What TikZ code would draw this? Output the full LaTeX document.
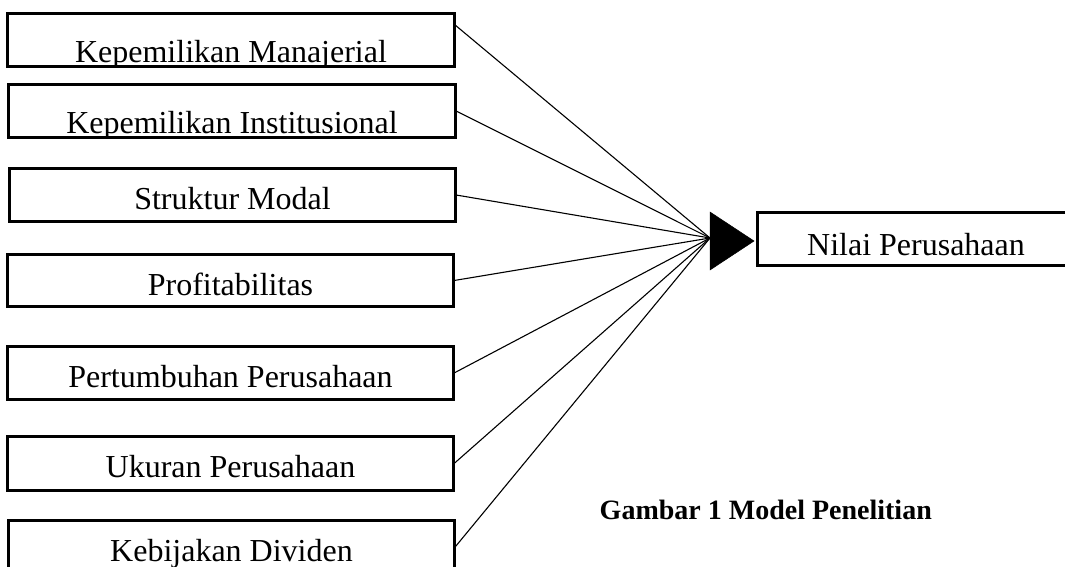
\documentclass[tikz,border=0pt]{standalone}
\usepackage{fontspec}
\setmainfont{Liberation Serif}
\begin{document}
\begin{tikzpicture}[x=1pt,y=-1pt,
  box/.style={draw, line width=2.2pt, inner sep=0pt, minimum height=52pt},
  txt/.style={anchor=base, inner sep=0pt, font=\fontsize{32}{38}\selectfont},
  link/.style={line width=1.1pt},
  head/.style={fill=black, draw=black, line width=0.5pt, line join=miter}]
\clip (0,0) rectangle (1065,567);
\fill[white] (0,0) rectangle (1065,567);

% boxes
\node[box, minimum width=446pt] (b1) at (231,40) {};
\node[box, minimum width=446pt] (b2) at (232,111) {};
\node[box, minimum width=445pt] (b3) at (232.5,195) {};
\node[box, minimum width=445pt, minimum height=51pt] (b4) at (230.5,280.5) {};
\node[box, minimum width=445pt] (b5) at (230.5,373) {};
\node[box, minimum width=445pt, minimum height=53pt] (b6) at (230.5,463.5) {};
\node[box, minimum width=445pt] (b7) at (231.5,547) {};
\node[box, minimum width=316pt] (nv) at (916,239) {};

% texts, clipped to their boxes
\begin{scope}\clip (b1.south west) rectangle (b1.north east);
\node[txt] (t1) at (231,63) {Kepemilikan Manajerial};\end{scope}
\begin{scope}\clip (b2.south west) rectangle (b2.north east);
\node[txt] (t2) at (232,133) {Kepemilikan Institusional};\end{scope}
\begin{scope}\clip (b3.south west) rectangle (b3.north east);
\node[txt] (t3) at (232.5,209) {Struktur Modal};\end{scope}
\begin{scope}\clip (b4.south west) rectangle (b4.north east);
\node[txt] (t4) at (230.5,295) {Profitabilitas};\end{scope}
\begin{scope}\clip (b5.south west) rectangle (b5.north east);
\node[txt] (t5) at (230.5,387) {Pertumbuhan Perusahaan};\end{scope}
\begin{scope}\clip (b6.south west) rectangle (b6.north east);
\node[txt] (t6) at (230.5,477) {Ukuran Perusahaan};\end{scope}
\begin{scope}\clip (b7.south west) rectangle (b7.north east);
\node[txt] (t7) at (231.5,561) {Kebijakan Dividen};\end{scope}
\begin{scope}\clip (nv.south west) rectangle (nv.north east);
\node[txt] (tn) at (916,255) {Nilai Perusahaan};\end{scope}

% redraw borders on top
\foreach \n in {b1,b2,b3,b4,b5,b6,b7,nv}
  \draw[line width=2.2pt] (\n.south west) rectangle (\n.north east);

% connectors
\coordinate (hub) at (710,238);
\draw[link] ([yshift=15pt]b1.east) -- (hub);
\draw[link] (b2.east) -- (hub);
\draw[link] (b3.east) -- (hub);
\draw[link] (b4.east) -- (hub);
\draw[link] (b5.east) -- (hub);
\draw[link] (b6.east) -- (hub);
\draw[link] (b7.east) -- (hub);

% arrow head
\fill[head] (710,212) -- (710,270) -- (754,241) -- cycle;

% caption
\node[anchor=base east, inner sep=0pt, font=\bfseries\fontsize{28}{34}\selectfont] (cap) at (932,519) {Gambar 1 Model Penelitian};
\end{tikzpicture}
\end{document}
